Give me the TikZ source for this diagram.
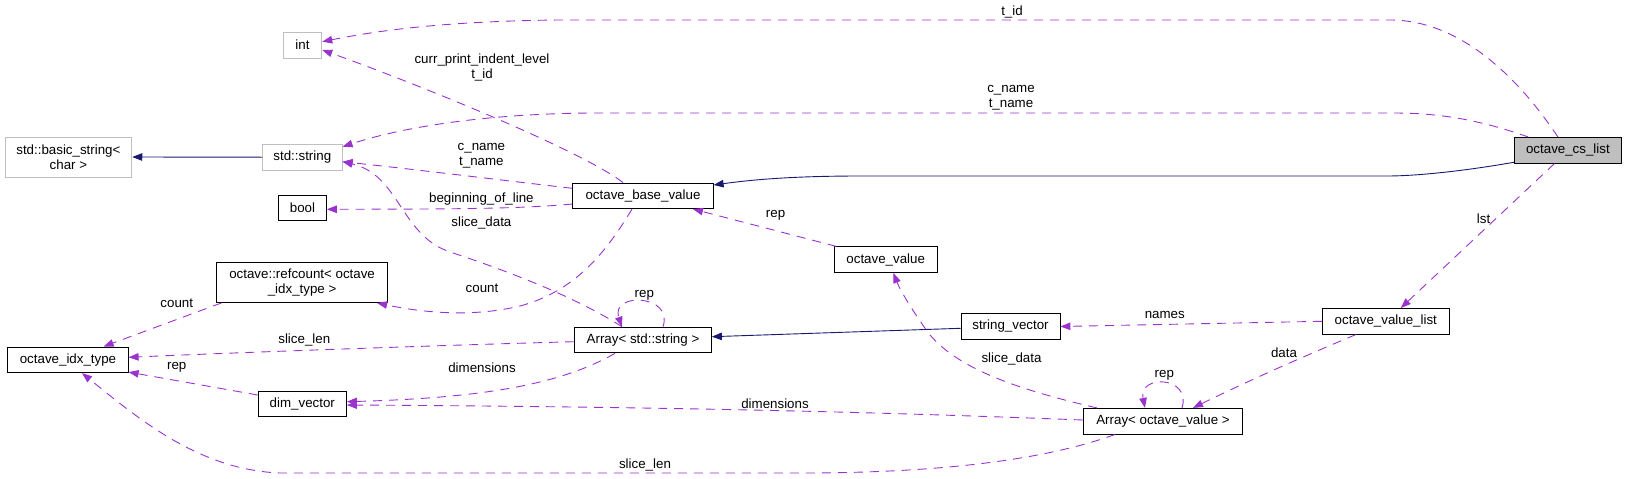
\documentclass[tikz,border=0pt]{standalone}
\usepackage{fontspec}
\setmainfont{Liberation Sans}
\usetikzlibrary{arrows.meta,calc}
\definecolor{edgepurple}{HTML}{9A32CD}
\definecolor{navyedge}{HTML}{191970}
\definecolor{graybd}{HTML}{BFBFBF}
\tikzset{
  cls/.style={draw=black, line width=0.9pt, inner xsep=0pt, inner ysep=0pt, minimum height=25.7pt, font=\fontsize{13.33}{15}\selectfont, align=center},
  ucls/.style={cls, draw=graybd},
  twoline/.style={minimum height=40pt},
  use/.style={draw=edgepurple, line width=0.9pt, dash pattern=on 9pt off 7pt, -{Triangle[length=10pt,width=7.5pt]}},
  inh/.style={draw=navyedge, line width=0.9pt, -{Triangle[length=10pt,width=7.5pt]}},
  lbl/.style={inner sep=0pt, font=\fontsize{13.33}{15}\selectfont, align=center},
}
\begin{document}
\begin{tikzpicture}[x=1pt,y=-1pt]
\useasboundingbox (0,0) rectangle (1627,479);
% nodes
\node[ucls, minimum width=38.6pt] (int) at (302.5,45.2) {int};
\node[ucls, twoline, minimum width=126.8pt] (basic) at (68.4,157) {std::basic\_string<\\char >};
\node[ucls, minimum width=79.6pt] (str) at (302.3,157.2) {std::string};
\node[cls, minimum width=47.8pt] (bool) at (302.5,207.8) {bool};
\node[cls, twoline, minimum width=170.7pt] (refc) at (302.1,282.5) {octave::refcount< octave\\\_idx\_type >};
\node[cls, minimum width=120.3pt] (idx) at (68,359.8) {octave\_idx\_type};
\node[cls, minimum width=88.2pt] (dimv) at (302.3,403.8) {dim\_vector};
\node[cls, minimum width=140.3pt] (base) at (643,195.8) {octave\_base\_value};
\node[cls, minimum width=102.8pt] (oval) at (885.7,259.7) {octave\_value};
\node[cls, minimum width=136.8pt] (astr) at (643,340) {Array< std::string >};
\node[cls, minimum width=98.9pt] (svec) at (1010.5,326.5) {string\_vector};
\node[cls, fill=graybd, minimum width=107.1pt] (cs) at (1567.9,150.3) {octave\_cs\_list};
\node[cls, minimum width=126.6pt] (ovl) at (1385.8,321.3) {octave\_value\_list};
\node[cls, minimum width=159.2pt] (aov) at (1163,421.2) {Array< octave\_value >};
% labels
\node[lbl] (ltid) at (1012,11.7) {t\_id};
\node[lbl] (lcpil) at (482,67.5) {curr\_print\_indent\_level\\t\_id};
\node[lbl] (lcna) at (1011,97.7) {c\_name\\t\_name};
\node[lbl] (lcnb) at (481.4,155.3) {c\_name\\t\_name};
\node[lbl] (lbol) at (481.4,199) {beginning\_of\_line};
\node[lbl] (lsda) at (481.4,222.7) {slice\_data};
\node[lbl] (lrepa) at (775.6,215) {rep};
\node[lbl] (llst) at (1483.6,219) {lst};
\node[lbl] (lcnta) at (482,288.7) {count};
\node[lbl] (lcntb) at (176.8,303.3) {count};
\node[lbl] (lsla) at (304.3,340) {slice\_len};
\node[lbl] (lrepb) at (176.7,367.3) {rep};
\node[lbl] (ldima) at (482,367.5) {dimensions};
\node[lbl] (lrepc) at (644.3,295) {rep};
\node[lbl] (lsdb) at (1011.5,359) {slice\_data};
\node[lbl] (ldimb) at (775,404) {dimensions};
\node[lbl] (lslb) at (645,465) {slice\_len};
\node[lbl] (lnames) at (1164.8,314.7) {names};
\node[lbl] (ldata) at (1284,352.7) {data};
\node[lbl] (lrepd) at (1164.3,375.7) {rep};
% inheritance edges
\draw[inh] ([yshift=-12pt]cs.west) .. controls (1470,170) and (1420,176) .. (1387,176) -- (861,176) .. controls (790,176) and (750,180) .. ([yshift=10.8pt]base.east);
\draw[inh] ([yshift=-1.8pt]svec.west) -- ([yshift=3.3pt]astr.east);
\draw[inh] (str.west) -- (basic.east);
% usage edges
\draw[use] ([xshift=-10pt]cs.north) .. controls (1530,95) and (1470,20) .. (1390,20) -- (560,20) .. controls (450,21) and (380,30) .. ([yshift=3.5pt]int.east);
\draw[use] ([xshift=-39.6pt]cs.north) .. controls (1480,120) and (1440,113) .. (1394,113) -- (590,113) .. controls (480,114) and (400,128) .. ([yshift=10.5pt]str.east);
\draw[use] ([xshift=-13.5pt]cs.south) -- ([xshift=15pt]ovl.north);
\draw[use] ([xshift=-20pt]base.north) .. controls (580,150) and (420,85) .. ([yshift=-4.8pt]int.east);
\draw[use] ([yshift=7.5pt]base.west) .. controls (500,180) and (420,170) .. ([yshift=-4.5pt]str.east);
\draw[use] ([yshift=-8.2pt]base.west) .. controls (520,209) and (450,209) .. ([yshift=-1.5pt]bool.east);
\draw[use] ([xshift=-11pt]base.south) .. controls (610,245) and (580,290) .. (520,306) .. controls (470,318) and (420,312) .. ([xshift=75pt]refc.south);
\draw[use] ([xshift=-21pt]astr.north) .. controls (580,300) and (520,275) .. (450,252) .. controls (400,235) and (400,175) .. ([yshift=-4.5pt]str.east);
\draw[use] ([xshift=20pt]astr.north) .. controls (674,294) and (610,292) .. ([xshift=-21pt]astr.north);
\draw[use] ([xshift=-49.3pt]oval.north) -- ([xshift=50pt]base.south);
\draw[use] ([xshift=-66pt]aov.north) .. controls (1020,390) and (960,370) .. (930,335) .. controls (915,315) and (900,290) .. ([xshift=7.7pt]oval.south);
\draw[use] (ovl.west) -- (svec.east);
\draw[use] ([xshift=-30pt]ovl.south) .. controls (1300,358) and (1250,380) .. ([xshift=30pt]aov.north);
\draw[use] ([xshift=19pt]aov.north) .. controls (1192,376) and (1138,374) .. ([xshift=-18pt]aov.north);
\draw[use] ([yshift=1.2pt]aov.west) .. controls (900,413) and (700,407) .. ([yshift=-1.2pt]dimv.east);
\draw[use] ([xshift=-28pt]astr.south) .. controls (560,385) and (480,398) .. ([yshift=2.1pt]dimv.east);
\draw[use] ([yshift=-1.7pt]astr.west) .. controls (450,345) and (250,352) .. ([yshift=2.5pt]idx.east);
\draw[use] ([yshift=8.8pt]dimv.west) -- ([yshift=1pt]idx.south east);
\draw[use] ([xshift=-80.7pt]refc.south) -- ([xshift=35.6pt]idx.north);
\draw[use] ([xshift=-48pt]aov.south) .. controls (1050,458) and (950,473) .. (800,473) -- (280,473) .. controls (200,470) and (140,420) .. ([xshift=14pt]idx.south);
\end{tikzpicture}
\end{document}
